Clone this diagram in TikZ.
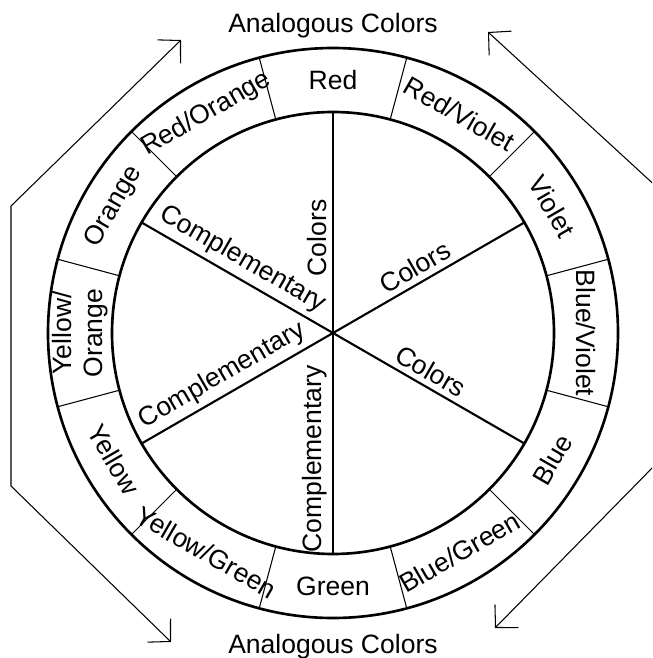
\documentclass[tikz,border=0pt]{standalone}
\usepackage{fontspec}
\setmainfont{Liberation Sans}
\usetikzlibrary{arrows.meta}

\begin{document}
\begin{tikzpicture}[font=\fontsize{15.1}{18}\selectfont,
   >={Straight Barb[length=0.32cm,width=0.66cm]},
   rim/.style={line width=1.5pt},
   spoke/.style={line width=1.2pt},
   divider/.style={line width=0.6pt},
   bracket/.style={line width=0.6pt,<->},
   seglabel/.style={inner sep=0pt, align=center},
   spokelabel/.style={sloped, above=1pt, inner sep=2pt}]
  \useasboundingbox (-6.66,-6.5) rectangle (6.38,6.66);
  \clip (-6.66,-6.5) rectangle (6.38,6.66);
  \coordinate (c) at (0,0);
  % wheel
  \draw[rim] (c) circle (5.7);
  \draw[rim] (c) circle (4.42);
  \foreach \a in {15,45,...,345}
    \draw[divider] (\a:4.42) -- (\a:5.7);
  % ring names
  \foreach \a/\t/\r [count=\i] in {90/Red/0, 120/{Red/Orange}/30, 150/Orange/60,
      180/{Yellow/\\Orange}/90, 210/Yellow/-60, 240/{Yellow/Green}/-30,
      270/Green/0, 300/{Blue/Green}/30, 330/Blue/60,
      0/{Blue/Violet}/-90, 30/Violet/-60, 60/{Red/Violet}/-30}
    \node[seglabel, rotate=\r] (hue\i) at (\a:5.06) {\t};
  % spokes
  \draw[spoke] (c) -- (90:4.42) node[spokelabel, pos=0.43] (colA) {Colors};
  \draw[spoke] (c) -- (30:4.42) node[spokelabel, pos=0.47] (colB) {Colors};
  \draw[spoke] (c) -- (330:4.42) node[spokelabel, pos=0.47] (colC) {Colors};
  \draw[spoke] (c) -- (150:4.42) node[spokelabel, pos=0.52] (compA) {Complementary};
  \draw[spoke] (c) -- (210:4.42) node[spokelabel, pos=0.53] (compB) {Complementary};
  \draw[spoke] (270:4.42) -- (c) node[spokelabel, pos=0.43] (compC) {Complementary};
  % analogous brackets
  \node (anaTop) at (0,6.14) {Analogous Colors};
  \node (anaBot) at (0,-6.27) {Analogous Colors};
  \coordinate (ltip) at (-3.04,5.86);
  \coordinate (lup)  at (-6.44,2.54);
  \coordinate (llo)  at (-6.44,-3.06);
  \coordinate (lbot) at (-3.24,-6.18);
  \draw[bracket] (ltip) -- (lup) -- (llo) -- (lbot);
  \coordinate (rtip) at (3.10,6.02);
  \coordinate (rup)  at (6.54,2.86);
  \coordinate (rlo)  at (6.54,-2.54);
  \coordinate (rbot) at (3.24,-5.90);
  \draw[bracket] (rtip) -- (rup) -- (rlo) -- (rbot);
\end{tikzpicture}
\end{document}
